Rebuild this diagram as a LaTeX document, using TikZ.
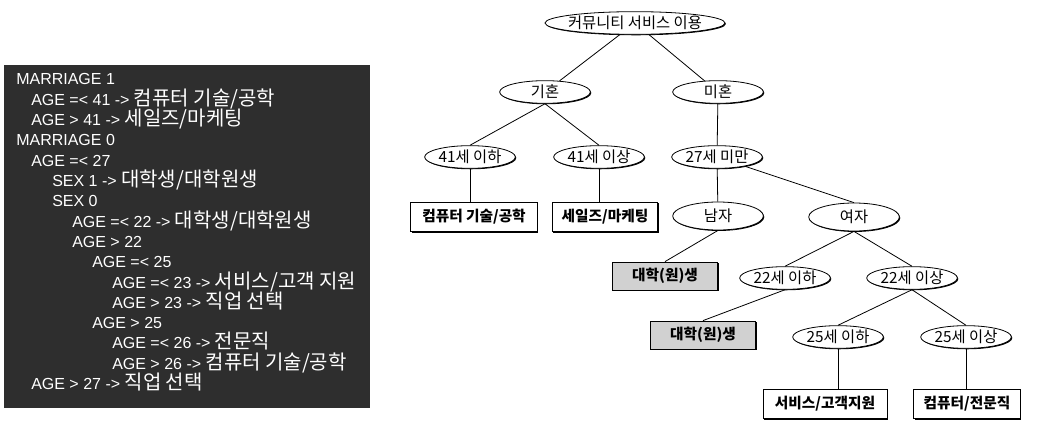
\documentclass[tikz,border=0pt]{standalone}
\usepackage{fontspec}
\setmainfont{Liberation Sans}
\newfontfamily\kofont{Noto Sans CJK KR}
\usetikzlibrary{shapes.geometric}
\usetikzlibrary{shadows}

\newcommand{\ko}[1]{{\kofont\fontsize{15}{15}\selectfont #1}}

\tikzset{
  edge shadow/.style={drop shadow={shadow xshift=0.7pt, shadow yshift=-0.7pt, fill=black, opacity=1}},
  cond/.style={ellipse, draw, fill=white, line width=0.6pt, inner xsep=-4pt, inner ysep=0pt,
    minimum width=68pt, minimum height=17pt, font=\kofont\fontsize{11.5}{11.5}\selectfont, edge shadow},
  leaf/.style={rectangle, draw, fill=white, line width=0.6pt, inner sep=2pt,
    minimum height=22pt, font=\kofont\bfseries\fontsize{11}{11}\selectfont, edge shadow},
  student/.style={leaf, fill=black!18, minimum width=79pt, minimum height=21pt},
  rule/.style={anchor=base west, inner sep=0pt, text=white, font=\fontsize{12}{12}\selectfont},
  link/.style={line width=0.6pt}
}

\begin{document}
\begin{tikzpicture}[x=0.75pt, y=-0.75pt]
\useasboundingbox (0,0) rectangle (1037,424);

\fill[black!82] (4,65) rectangle (370,408);
\node[rule] (mar1) at (16,85) {MARRIAGE 1};
\node[rule] (mar1le) at (31,105.3) {AGE =< 41 -> \ko{컴퓨터 기술/공학}};
\node[rule] (mar1gt) at (31,125.6) {AGE > 41 -> \ko{세일즈/마케팅}};
\node[rule] (mar0) at (16,145.9) {MARRIAGE 0};
\node[rule] (age27le) at (31,166.2) {AGE =< 27};
\node[rule] (sex1) at (52,186.5) {SEX 1 -> \ko{대학생/대학원생}};
\node[rule] (sex0) at (52,206.8) {SEX 0};
\node[rule] (age22le) at (72,227.1) {AGE =< 22 -> \ko{대학생/대학원생}};
\node[rule] (age22gt) at (72,247.4) {AGE > 22};
\node[rule] (age25le) at (92,267.7) {AGE =< 25};
\node[rule] (age23le) at (112,288) {AGE =< 23 -> \ko{서비스/고객 지원}};
\node[rule] (age23gt) at (112,308.3) {AGE > 23 -> \ko{직업 선택}};
\node[rule] (age25gt) at (92,328.6) {AGE > 25};
\node[rule] (age26le) at (112,348.9) {AGE =< 26 -> \ko{전문직}};
\node[rule] (age26gt) at (112,369.2) {AGE > 26 -> \ko{컴퓨터 기술/공학}};
\node[rule] (age27gt) at (31,389.5) {AGE > 27 -> \ko{직업 선택}};

\node[cond, minimum width=135pt] (root) at (635,23) {커뮤니티 서비스 이용};
\node[cond] (gihon) at (545,92) {기혼};
\node[cond] (mihon) at (718,92) {미혼};
\node[cond] (le41) at (470,157) {41세 이하};
\node[cond] (ge41) at (599,157) {41세 이상};
\node[cond] (lt27) at (717,157) {27세 미만};
\node[leaf, minimum width=95pt] (tech) at (474,217) {컴퓨터 기술/공학};
\node[leaf, minimum width=79pt] (sales) at (605,217) {세일즈/마케팅};
\node[cond, minimum height=21pt] (male) at (718,216) {남자};
\node[cond, minimum height=21pt] (female) at (854,217) {여자};
\node[student] (univa) at (665,276) {대학(원)생};
\node[cond] (le22) at (785,278) {22세 이하};
\node[cond] (ge22) at (912,278) {22세 이상};
\node[student] (univb) at (703,335) {대학(원)생};
\node[cond] (le25) at (838,337) {25세 이하};
\node[cond] (ge25) at (966,337) {25세 이상};
\node[leaf, minimum width=93pt] (service) at (825,404) {서비스/고객지원};
\node[leaf, minimum width=80pt] (pro) at (967,404) {컴퓨터/전문직};

\draw[link] (root) -- (gihon);
\draw[link] (root) -- (mihon);
\draw[link] (gihon.south) -- (le41.north);
\draw[link] (gihon.south) -- (ge41.north);
\draw[link] (mihon) -- (lt27);
\draw[link] (le41.south) -- (le41.south |- tech.north);
\draw[link] (ge41.south) -- (ge41.south |- sales.north);
\draw[link] (lt27) -- (male);
\draw[link] (lt27) -- (female.north);
\draw[link] (male.south) -- (univa.north);
\draw[link] (female.south) -- (le22.north);
\draw[link] (female.south) -- (ge22.north);
\draw[link] (le22.south) -- (univb.north);
\draw[link] (ge22.south) -- (le25.north);
\draw[link] (ge22.south) -- (ge25.north);
\draw[link] (le25.south) -- (le25.south |- service.north);
\draw[link] (ge25.south) -- (ge25.south |- pro.north);
\end{tikzpicture}
\end{document}
